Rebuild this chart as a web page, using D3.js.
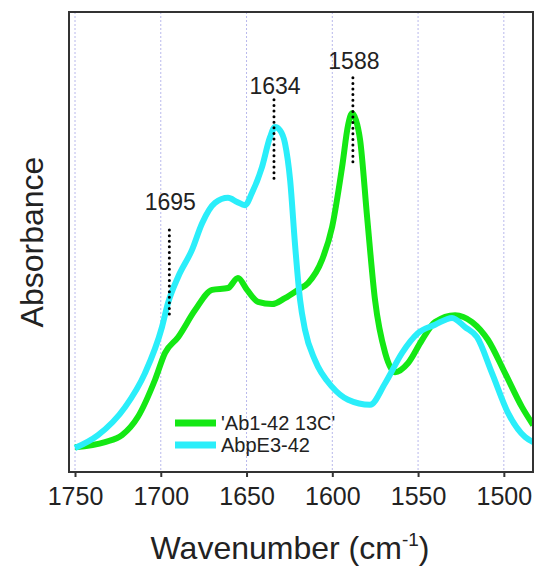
<!DOCTYPE html>
<html>
<head>
<meta charset="utf-8">
<script src="https://cdn.jsdelivr.net/npm/d3@7"></script>
<style>
  body { margin: 0; background: #fff; }
  text { font-family: Arial, "Liberation Sans", sans-serif; fill: #222; }
</style>
</head>
<body>
<script>
// wavenumber (cm-1) and absorbance (arb. units)
var greenWave = [1750, 1732.5, 1722.6, 1713.3, 1703.4, 1697.5, 1689.9, 1680, 1670.1, 1660.8, 1655, 1649.7,
  1643.3, 1635.1, 1627.6, 1620, 1614.1, 1606, 1600.1, 1594.3, 1590.8, 1588.5, 1586.2, 1583.8, 1579.7,
  1575.1, 1569.2, 1563.4, 1555.8, 1547.7, 1540.1, 1528.4, 1518.5, 1509.2, 1499.3, 1489.4, 1482.9];
var greenAbs = [0.054, 0.065, 0.080, 0.120, 0.200, 0.259, 0.293, 0.352, 0.396, 0.400, 0.422, 0.396,
  0.370, 0.365, 0.378, 0.396, 0.411, 0.461, 0.533, 0.663, 0.754, 0.780, 0.765, 0.722, 0.554,
  0.374, 0.259, 0.217, 0.237, 0.287, 0.326, 0.341, 0.326, 0.287, 0.215, 0.141, 0.102];

var cyanWave = [1750, 1736.6, 1720.8, 1709.2, 1699.3, 1695.8, 1689.9, 1681.8, 1675.9, 1668.4, 1660.8, 1655.5,
  1650.9, 1646.8, 1641, 1636.3, 1633.4, 1630.5, 1627.6, 1624.6, 1621.7, 1618.8, 1615.9, 1610.1, 1600.1,
  1590.8, 1578, 1569.2, 1559.3, 1550, 1540.1, 1530.2, 1522.6, 1515.6, 1506.9, 1497.5, 1487.6, 1482.9];
var cyanAbs = [0.052, 0.080, 0.141, 0.215, 0.315, 0.367, 0.424, 0.483, 0.541, 0.585, 0.596, 0.587,
  0.580, 0.607, 0.663, 0.728, 0.750, 0.743, 0.715, 0.635, 0.493, 0.374, 0.309, 0.243, 0.185,
  0.157, 0.146, 0.193, 0.259, 0.302, 0.320, 0.335, 0.315, 0.293, 0.215, 0.128, 0.076, 0.065];

var seriesNames = ["'Ab1-42 13C'", "AbpE3-42"];
var seriesColors = ["#14e814", "#2aeefa"];

var xTicks = [1750, 1700, 1650, 1600, 1550, 1500];

// peak markers: wavenumber, dotted line top/bottom and label in absorbance units
var peakWave = [1695, 1634, 1588];
var peakTop = [0.526, 0.809, 0.857];
var peakBottom = [0.341, 0.628, 0.674];
var peakLabelAt = [0.570, 0.822, 0.876];

var width = 536, height = 569;
var margin = {left: 69, right: 3, top: 12, bottom: 97};

var svg = d3.select("body").append("svg").attr("width", width).attr("height", height);

var x = d3.scaleLinear().domain([1753.5, 1483]).range([margin.left, width - margin.right]);
var y = d3.scaleLinear().domain([0, 1]).range([height - margin.bottom, margin.top]);

svg.append("clipPath").attr("id", "clip")
  .append("rect")
  .attr("x", margin.left).attr("y", margin.top)
  .attr("width", width - margin.left - margin.right)
  .attr("height", height - margin.top - margin.bottom);

// vertical dotted grid
svg.append("g").selectAll("line").data(xTicks).join("line")
  .attr("x1", function(d){ return x(d); }).attr("x2", function(d){ return x(d); })
  .attr("y1", y(1)).attr("y2", y(0))
  .attr("stroke", "#b8b8ec").attr("stroke-width", 1).attr("stroke-dasharray", "2,2");

var line = d3.line()
  .x(function(d){ return x(d[0]); })
  .y(function(d){ return y(d[1]); })
  .curve(d3.curveMonotoneX);

var series = [d3.zip(greenWave, greenAbs), d3.zip(cyanWave, cyanAbs)];

svg.append("g").attr("clip-path", "url(#clip)")
  .selectAll("path").data(series).join("path")
  .attr("d", line)
  .attr("fill", "none")
  .attr("stroke", function(d, i){ return seriesColors[i]; })
  .attr("stroke-width", 6)
  .attr("stroke-linejoin", "round");

// peak markers
var peaks = svg.append("g");
peakWave.forEach(function(w, i) {
  peaks.append("line")
    .attr("x1", x(w)).attr("x2", x(w))
    .attr("y1", y(peakTop[i])).attr("y2", y(peakBottom[i]))
    .attr("stroke", "#000").attr("stroke-width", 3)
    .attr("stroke-linecap", "round").attr("stroke-dasharray", "0,5.6");
  peaks.append("text")
    .attr("x", x(w) + 1).attr("y", y(peakLabelAt[i]))
    .attr("text-anchor", "middle")
    .style("font-size", "23px")
    .text(w);
});

// frame
svg.append("rect")
  .attr("x", margin.left).attr("y", margin.top)
  .attr("width", width - margin.left - margin.right)
  .attr("height", height - margin.top - margin.bottom)
  .attr("fill", "none").attr("stroke", "#333").attr("stroke-width", 2);

var xAxis = d3.axisBottom(x).tickValues(xTicks).tickSize(5).tickPadding(10).tickFormat(d3.format("d"));
var gx = svg.append("g").attr("transform", "translate(0," + (height - margin.bottom) + ")").call(xAxis);
gx.select(".domain").remove();
gx.selectAll(".tick line").attr("stroke", "#333").attr("stroke-width", 2);
gx.selectAll(".tick text").style("font-size", "25px").attr("fill", "#222")
  .style("font-family", "Arial, 'Liberation Sans', sans-serif");

// legend
var legend = svg.append("g");
seriesNames.forEach(function(name, i) {
  var ly = 423 + i * 22;
  legend.append("line")
    .attr("x1", 175).attr("x2", 216).attr("y1", ly).attr("y2", ly)
    .attr("stroke", seriesColors[i]).attr("stroke-width", 7);
  legend.append("text")
    .attr("x", 221).attr("y", ly + 7)
    .style("font-size", "20px")
    .text(name);
});

// axis titles
var xt = svg.append("text")
  .attr("x", 290).attr("y", 559)
  .attr("text-anchor", "middle")
  .style("font-size", "32px");
xt.append("tspan").text("Wavenumber (cm");
xt.append("tspan").attr("dy", -13).style("font-size", "19px").text("-1");
xt.append("tspan").attr("dy", 13).text(")");

svg.append("text")
  .attr("transform", "translate(43," + y(0.5) + ") rotate(-90)")
  .attr("text-anchor", "middle")
  .style("font-size", "32px")
  .text("Absorbance");
</script>
</body>
</html>
